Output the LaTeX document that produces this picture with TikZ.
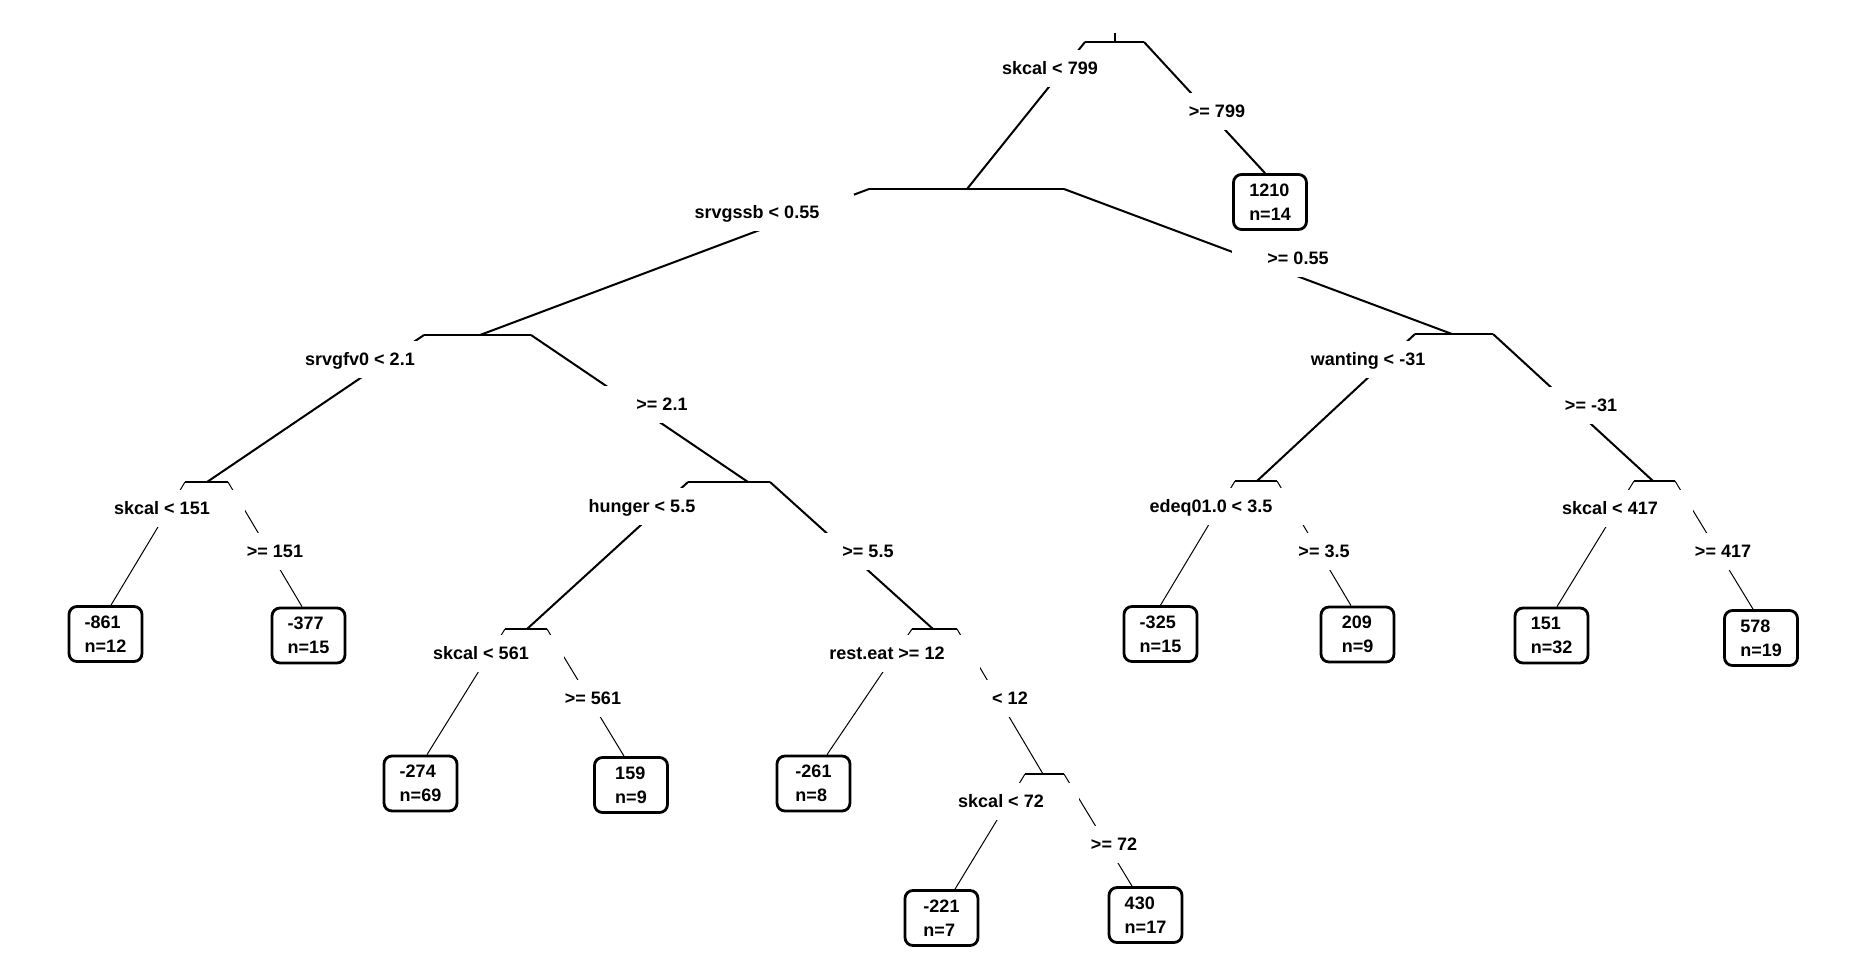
\documentclass[tikz,border=0pt]{standalone}
\usepackage{fontspec}
\setmainfont{Liberation Sans}
\begin{document}
\begin{tikzpicture}[x=0.5pt,y=-0.5pt,
  heavy/.style={line width=1pt},
  light/.style={line width=0.5pt},
  splitlabel/.style={fill=white, inner xsep=17.5pt, inner ysep=6pt, text height=6.5pt, text depth=0pt,
    font=\fontsize{9}{11}\selectfont\bfseries},
  leafbox/.style={draw, line width=1.4pt, rounded corners=4pt, minimum width=36.5pt, minimum height=27.5pt,
    align=left, inner sep=0pt, font=\fontsize{9}{12}\selectfont\bfseries}]
\useasboundingbox (0,0) rectangle (1858,955);

% split bars (coordinates)
\coordinate (rT) at (1115,33);
\coordinate (r) at (1115,42);  \coordinate (rL) at (1085,42);  \coordinate (rR) at (1144,42);
\coordinate (a) at (967,189);  \coordinate (aL) at (869,189);  \coordinate (aR) at (1064,189);
\coordinate (b) at (480,335);  \coordinate (bL) at (424,335);  \coordinate (bR) at (531,335);
\coordinate (c) at (207,482);  \coordinate (cL) at (185,482);  \coordinate (cR) at (228,482);
\coordinate (d) at (748,482);  \coordinate (dL) at (688,482);  \coordinate (dR) at (770,482);
\coordinate (e) at (527,629);  \coordinate (eL) at (505,629);  \coordinate (eR) at (547,629);
\coordinate (f) at (933,629);  \coordinate (fL) at (912,629);  \coordinate (fR) at (957,629);
\coordinate (g) at (1043,774); \coordinate (gL) at (1025,774); \coordinate (gR) at (1064,774);
\coordinate (h) at (1452,334); \coordinate (hL) at (1415,334); \coordinate (hR) at (1493,334);
\coordinate (i) at (1257,481); \coordinate (iL) at (1235,481); \coordinate (iR) at (1277,481);
\coordinate (j) at (1653,481); \coordinate (jL) at (1634,481); \coordinate (jR) at (1675,481);

% leaves
\node[leafbox] (L1210) at (1270,202)    {1210\\n=14};
\node[leafbox] (Lm861) at (105.5,634)   {-861\\n=12};
\node[leafbox] (Lm377) at (308.5,635.5) {-377\\n=15};
\node[leafbox] (Lm274) at (420.5,783.5) {-274\\n=69};
\node[leafbox] (L159)  at (631,785)     {159\\n=9};
\node[leafbox] (Lm261) at (813.5,783.5) {-261\\n=8};
\node[leafbox] (Lm221) at (941.5,918)   {-221\\n=7};
\node[leafbox] (L430)  at (1145.5,915)  {430\\n=17};
\node[leafbox] (Lm325) at (1160.5,634)  {-325\\n=15};
\node[leafbox] (L209)  at (1357.5,634.5){209\\n=9};
\node[leafbox] (L151)  at (1551.5,635.5){151\\n=32};
\node[leafbox] (L578)  at (1761,638)    {578\\n=19};

% bars
\draw[heavy] (rT) -- (r);
\foreach \n in {r,a,b,c,d,e,f,g,h,i,j} \draw[heavy] (\n L) -- (\n R);

% edges
\draw[heavy] (rL) -- (a);
\draw[heavy] (rR) -- ([xshift=-2.5pt]L1210.north);
\draw[heavy] (aL) -- (b);
\draw[heavy] (aR) -- (h);
\draw[heavy] (bL) -- (c);
\draw[heavy] (bR) -- (d);
\draw[light] (cL) -- ([xshift=2.75pt]Lm861.north);
\draw[light] (cR) -- ([xshift=-3.25pt]Lm377.north);
\draw[heavy] (dL) -- (e);
\draw[heavy] (dR) -- (f);
\draw[light] (eL) -- ([xshift=3.25pt]Lm274.north);
\draw[light] (eR) -- ([xshift=-3.5pt]L159.north);
\draw[light] (fL) -- ([xshift=6.75pt]Lm261.north);
\draw[light] (fR) -- (g);
\draw[light] (gL) -- ([xshift=6.75pt]Lm221.north);
\draw[light] (gR) -- ([xshift=-6.75pt]L430.north);
\draw[heavy] (hL) -- (i);
\draw[heavy] (hR) -- (j);
\draw[light] (iL) -- (Lm325.north);
\draw[light] (iR) -- ([xshift=-3.25pt]L209.north);
\draw[light] (jL) -- ([xshift=2.75pt]L151.north);
\draw[light] (jR) -- ([xshift=-4pt]L578.north);

% labels (white backgrounds cut the edges)
\node[splitlabel] (t1)  at (1050,68)  {skcal < 799};
\node[splitlabel] (t2)  at (1217,111) {>= 799};
\node[splitlabel] (t3)  at (757,212)  {srvgssb < 0.55};
\node[splitlabel] (t4)  at (1298,258) {>= 0.55};
\node[splitlabel] (t5)  at (360,359)  {srvgfv0 < 2.1};
\node[splitlabel] (t6)  at (662,404)  {>= 2.1};
\node[splitlabel] (t7)  at (1368,359) {wanting < -31};
\node[splitlabel] (t8)  at (1591,405) {>= -31};
\node[splitlabel] (t9)  at (162,508)  {skcal < 151};
\node[splitlabel] (t10) at (275,551)  {>= 151};
\node[splitlabel] (t11) at (642,506)  {hunger < 5.5};
\node[splitlabel] (t12) at (868,551)  {>= 5.5};
\node[splitlabel] (t13) at (1211,506) {edeq01.0 < 3.5};
\node[splitlabel] (t14) at (1324,551) {>= 3.5};
\node[splitlabel] (t15) at (1610,508) {skcal < 417};
\node[splitlabel] (t16) at (1723,551) {>= 417};
\node[splitlabel] (t17) at (481,653)  {skcal < 561};
\node[splitlabel] (t18) at (593,698)  {>= 561};
\node[splitlabel] (t19) at (887,653)  {rest.eat >= 12};
\node[splitlabel] (t20) at (1010,698) {< 12};
\node[splitlabel] (t21) at (1001,801) {skcal < 72};
\node[splitlabel] (t22) at (1114,844) {>= 72};
\end{tikzpicture}
\end{document}
